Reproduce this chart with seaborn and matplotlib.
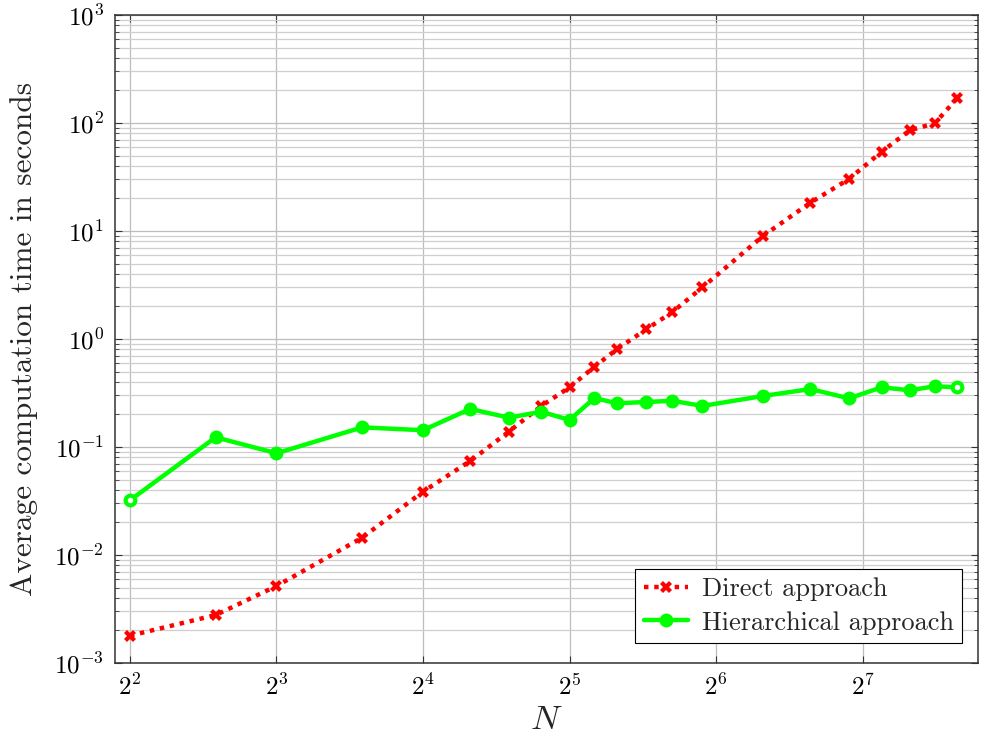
import numpy as np
import pandas as pd
import matplotlib
matplotlib.use("Agg")
import matplotlib.pyplot as plt
import matplotlib.ticker as mticker
import seaborn as sns

# ---- data ----
N_values = [4, 6, 8, 12, 16, 20, 24, 28, 32, 36, 40, 46, 52, 60, 80, 100, 120, 140, 160, 180, 200]
direct_times = [0.00179, 0.00278, 0.00516, 0.01446, 0.0386, 0.0742, 0.1386, 0.240, 0.357, 0.554,
                0.803, 1.23, 1.77, 3.01, 9.04, 18.3, 30.3, 54.2, 85.6, 99.3, 169.0]
hier_times = [0.0321, 0.123, 0.0875, 0.152, 0.143, 0.225, 0.187, 0.212, 0.178, 0.284,
              0.254, 0.261, 0.268, 0.240, 0.297, 0.344, 0.282, 0.357, 0.335, 0.365, 0.357]
series_names = ["Direct approach", "Hierarchical approach"]
x_tick_values = [4, 8, 16, 32, 64, 128]
x_tick_labels = [r"$2^{2}$", r"$2^{3}$", r"$2^{4}$", r"$2^{5}$", r"$2^{6}$", r"$2^{7}$"]
y_tick_values = [1e-3, 1e-2, 1e-1, 1e0, 1e1, 1e2, 1e3]
y_tick_labels = [r"$10^{-3}$", r"$10^{-2}$", r"$10^{-1}$", r"$10^{0}$", r"$10^{1}$", r"$10^{2}$", r"$10^{3}$"]

df_direct = pd.DataFrame({"N": N_values, "t": direct_times})
df_hier = pd.DataFrame({"N": N_values, "t": hier_times})

sns.set_style("white")
plt.rcParams["mathtext.fontset"] = "cm"
plt.rcParams["font.family"] = ["cmr10", "DejaVu Serif"]
plt.rcParams["axes.formatter.use_mathtext"] = True

fig = plt.figure(figsize=(9.81, 7.40), dpi=100)
ax = fig.add_axes([115 / 981, 1 - 663 / 740, (978 - 115) / 981, (663 - 15) / 740])

ax.set_xscale("log", base=2)
ax.set_yscale("log")

sns.lineplot(data=df_direct, x="N", y="t", ax=ax, color="#ff0000", linestyle=(0, (1, 1.3)),
             linewidth=3.2, marker="X", markersize=8.5, markeredgewidth=0,
             estimator=None, sort=False, label=series_names[0], zorder=3)
sns.lineplot(data=df_hier, x="N", y="t", ax=ax, color="#00ff00", linestyle="-",
             linewidth=3.2, marker="o", markersize=10, markeredgewidth=0,
             estimator=None, sort=False, label=series_names[1], zorder=4)
# open look of the end markers
ends = df_hier.iloc[[0, -1]]
ax.plot(ends["N"], ends["t"], linestyle="none", marker="o", markersize=4,
        color="white", markeredgewidth=0, zorder=5)

ax.set_xlim(2 ** 1.898, 2 ** 7.787)
ax.set_ylim(1e-3, 1e3)

ax.xaxis.set_major_locator(mticker.FixedLocator(x_tick_values))
ax.xaxis.set_major_formatter(mticker.FixedFormatter(x_tick_labels))
ax.xaxis.set_minor_locator(mticker.NullLocator())
ax.yaxis.set_major_locator(mticker.FixedLocator(y_tick_values))
ax.yaxis.set_major_formatter(mticker.FixedFormatter(y_tick_labels))
ax.yaxis.set_minor_locator(mticker.LogLocator(base=10, subs=np.arange(2, 10), numticks=20))
ax.yaxis.set_minor_formatter(mticker.NullFormatter())

ax.grid(True, which="major", axis="both", color="#bdbdbd", linewidth=0.9)
ax.grid(True, which="minor", axis="y", color="#cfcfcf", linewidth=0.9)
ax.set_axisbelow(True)

ax.tick_params(which="both", direction="in", top=True, right=True, bottom=True, left=True,
               colors="#333333", labelcolor="black")
ax.tick_params(which="major", length=5, width=0.8, labelsize=18, pad=8)
ax.tick_params(which="minor", length=3, width=0.6)
for s in ax.spines.values():
    s.set_color("#333333")
    s.set_linewidth(1.1)

ax.set_xlabel(r"$N$", fontsize=25, labelpad=3)
ax.set_ylabel("Average computation time in seconds", fontsize=22.5, labelpad=12)

leg = ax.legend(loc="lower right", bbox_to_anchor=((962 - 115) / 863, (663 - 643) / 648),
                borderaxespad=0, fontsize=19, frameon=True, fancybox=False,
                edgecolor="black", handlelength=1.7, borderpad=0.32, labelspacing=0.38,
                handletextpad=0.5)
leg.get_frame().set_linewidth(0.8)
leg.get_frame().set_alpha(1)

fig.savefig("out.png", dpi=100)
